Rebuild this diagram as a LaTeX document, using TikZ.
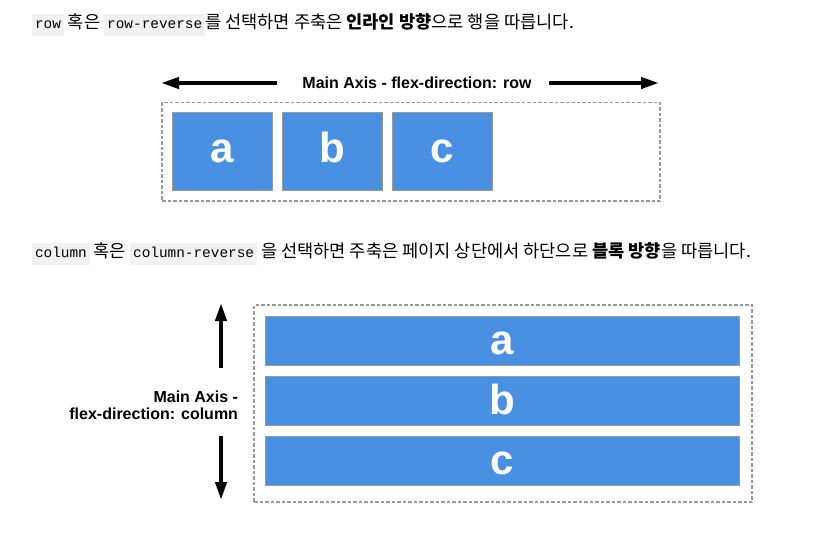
\documentclass[tikz,border=0pt]{standalone}
\usepackage{fontspec}
\setmainfont{Liberation Sans}
\setmonofont{Liberation Mono}
\newfontfamily\krfont{Noto Sans CJK KR}
\usepackage{xcolor}
\usetikzlibrary{arrows.meta,positioning}
\definecolor{flexblue}{HTML}{4A90E2}
\definecolor{boxgray}{HTML}{999999}
\definecolor{codebg}{HTML}{F2F2F2}
\newcommand{\code}[1]{{\setlength{\fboxsep}{3pt}\colorbox{codebg}{\ttfamily\fontsize{14.4}{16}\selectfont\strut #1}}}

\begin{document}
\begin{tikzpicture}[
    x=1pt, y=-1pt,
    every node/.style={inner sep=0pt, outer sep=0pt},
    item/.style={draw=boxgray, fill=flexblue, line width=1pt, text=white, font=\fontsize{42}{42}\selectfont\bfseries, text depth=0pt},
    container/.style={draw=boxgray, line width=1.6pt, dash pattern=on 3.5pt off 2pt},
    axis/.style={-{Triangle[length=18pt, width=11pt]}, line width=4pt},
    axislabel/.style={font=\fontsize{16}{17}\selectfont\bfseries},
    note/.style={anchor=west, font=\krfont\fontsize{17.6}{19}\selectfont},
]
\useasboundingbox (0,0) rectangle (838,538);

% Descriptions
\node (rownote) [note] at (32,25) {\code{row} 혹은 \code{row-reverse}를 선택하면 주축은 \textbf{인라인 방향}으로 행을 따릅니다.};
\node (colnote) [note] at (32,254) {\code{column} 혹은 \code{column-reverse} 을 선택하면 주축은 페이지 상단에서 하단으로 \textbf{블록 방향}을 따릅니다.};

% Row direction
\node (rowbox) [container, minimum width=498pt, minimum height=98.5pt] at (411,151.75) {};
\node (ra) [item, minimum width=100pt, minimum height=78pt, text height=22pt] at (222,151) {a};
\node (rb) [item, minimum width=100pt, minimum height=78pt, text height=22pt, right=10pt of ra] {b};
\node (rc) [item, minimum width=100pt, minimum height=78pt, text height=22pt, right=10pt of rb] {c};
\node (rowlabel) [axislabel] at (417,83) {Main Axis - flex-direction: row};
\coordinate (rowleft) at (161,83);
\coordinate (rowright) at (659,83);
\draw[axis] (rowlabel.west) ++(-25pt,0) -- (rowleft);
\draw[axis] (rowlabel.east) ++(17pt,0) -- (rowright);

% Column direction
\node (colbox) [container, minimum width=498pt, minimum height=197pt] at (503,403.5) {};
\node (ca) [item, minimum width=474pt, minimum height=49pt, text height=27pt] at (502.5,341) {a};
\node (cb) [item, minimum width=474pt, minimum height=49pt, text height=27pt, below=11pt of ca] {b};
\node (cc) [item, minimum width=474pt, minimum height=49pt, text height=27pt, below=11pt of cb] {c};
\node (collabel) [axislabel, anchor=east, align=right] at (238,405) {Main Axis -\\flex-direction: column};
\coordinate (coltop) at (221,303);
\coordinate (colbottom) at (221,500);
\draw[axis] (221,368) -- (coltop);
\draw[axis] (221,436) -- (colbottom);
\end{tikzpicture}
\end{document}
